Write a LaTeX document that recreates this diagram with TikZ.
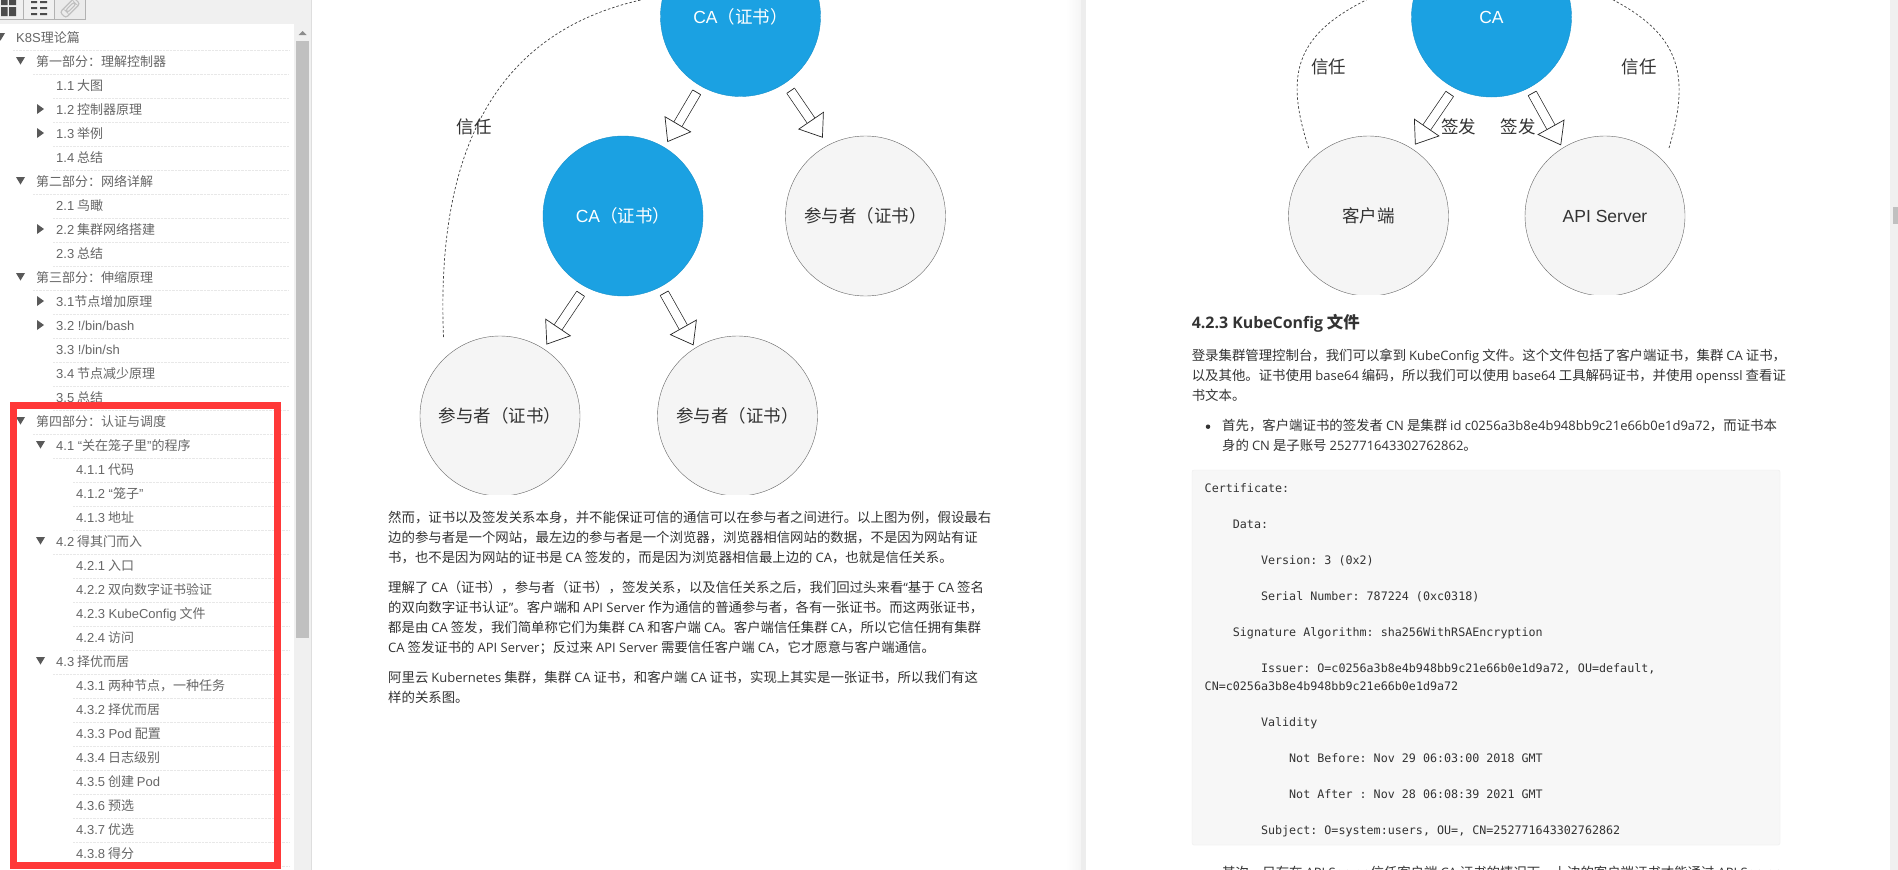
\documentclass[tikz,border=0pt]{standalone}
\usepackage{fontspec}
\usetikzlibrary{arrows.meta}
\setmainfont{Noto Sans CJK SC}
\newfontfamily\arifont{Liberation Sans}
\newfontfamily\latfont[Scale=0.97]{Open Sans}
\setmonofont{DejaVu Sans Mono}
\newcommand{\ari}[1]{{\arifont #1}}
\newcommand{\lat}[1]{{\latfont #1}}
\definecolor{cablue}{HTML}{1BA1E2}
\definecolor{peergrey}{HTML}{F5F5F5}
\definecolor{panelgrey}{HTML}{F0F0F0}
\definecolor{thumbgrey}{HTML}{C0C0C0}
\definecolor{redframe}{HTML}{FF3838}
\definecolor{bodytext}{HTML}{333333}
\tikzset{
  ca/.style = {circle, minimum size=160pt, inner sep=0, draw=cablue!90!black, fill=cablue, text=white, font=\fontsize{17.5}{20}\selectfont},
  peer/.style = {circle, minimum size=160pt, inner sep=0, draw=black!60, fill=peergrey, text=bodytext, font=\fontsize{17.5}{20}\selectfont},
  signarrow/.style = {double, double distance=8.5pt, line width=.7pt, draw=black!85, {Bar[width=9.5pt,line width=.7pt]}-{Triangle[open,length=21pt,width=31pt,line width=.7pt,fill=white]}},
  trust/.style = {dashed, dash pattern=on 2.5pt off 2pt, line width=.7pt, draw=black!75},
  tag/.style = {inner sep=0, text=bodytext, font=\fontsize{17.5}{20}\selectfont},
  tocrow/.style = {anchor=west, inner sep=0, text height=10pt, text depth=3pt, text=black!60, font=\fontsize{13}{16}\selectfont},
  bodyline/.style = {anchor=west, inner sep=0, text height=10pt, text depth=3pt, text=bodytext, font=\fontsize{13.4}{16}\selectfont},
  codeline/.style = {anchor=west, inner sep=0, text height=9pt, text depth=3pt, text=bodytext, font=\ttfamily\fontsize{11.7}{14}\selectfont}
}
\begin{document}
\begin{tikzpicture}[x=1pt, y=-1pt]
  \clip (0,0) rectangle (1898,870);
  \fill[white] (0,0) rectangle (1898,870);

  % window
  \fill[panelgrey] (0,0) rectangle (294,24);
  \fill[panelgrey] (294,0) rectangle (311,870);
  \fill[black!13] (311,0) rectangle (312,870);
  \fill[thumbgrey] (296,41) rectangle (309,638);
  \fill[black!45] (298.5,35) -- (302.5,31) -- (306.5,35) -- cycle;
  \fill[left color=white, right color=black!4] (1066,0) rectangle (1081,870);
  \fill[black!7] (1081,0) rectangle (1086,870);
  \fill[panelgrey] (1890,0) rectangle (1898,870);
  \fill[thumbgrey] (1893,207) rectangle (1898,224);
  \draw[black!30] (-1,19.5) -- (85.5,19.5) -- (85.5,-1);
  \draw[black!30] (23.5,-1) -- (23.5,19.5) (54.5,-1) -- (54.5,19.5);
  \fill[black!8] (55,0) rectangle (85,19);
  \fill[black!70] (1,0) rectangle (7.5,5) (9,0) rectangle (16,5) (1,7) rectangle (7.5,16) (9,7) rectangle (16,16);
  \foreach \rowy in {2,8,14} {
    \fill[black!70] (31,\rowy-1) rectangle (37,\rowy+1) (40,\rowy-1) rectangle (47,\rowy+1);
  }
  \draw[black!25, line width=1.2pt, rotate around={-45:(70,8)}, rounded corners=2.5pt] (66,-2) rectangle (74,18) (68.5,1) rectangle (71.5,13);

  % contents
  \foreach \lvl/\mk/\txt [count=\i] in {
    0/1/{\ari{K8S}理论篇},
    1/1/{第一部分：理解控制器},
    2/0/{\ari{1.1} 大图},
    2/2/{\ari{1.2} 控制器原理},
    2/2/{\ari{1.3} 举例},
    2/0/{\ari{1.4} 总结},
    1/1/{第二部分：网络详解},
    2/0/{\ari{2.1} 鸟瞰},
    2/2/{\ari{2.2} 集群网络搭建},
    2/0/{\ari{2.3} 总结},
    1/1/{第三部分：伸缩原理},
    2/2/{\ari{3.1}节点增加原理},
    2/2/{\ari{3.2 !/bin/bash}},
    2/0/{\ari{3.3 !/bin/sh}},
    2/0/{\ari{3.4} 节点减少原理},
    2/0/{\ari{3.5} 总结},
    1/1/{第四部分：认证与调度},
    2/1/{\ari{4.1 “}关在笼子里\ari{”}的程序},
    3/0/{\ari{4.1.1} 代码},
    3/0/{\ari{4.1.2 “}笼子\ari{”}},
    3/0/{\ari{4.1.3} 地址},
    2/1/{\ari{4.2} 得其门而入},
    3/0/{\ari{4.2.1} 入口},
    3/0/{\ari{4.2.2} 双向数字证书验证},
    3/0/{\ari{4.2.3 KubeConfig} 文件},
    3/0/{\ari{4.2.4} 访问},
    2/1/{\ari{4.3} 择优而居},
    3/0/{\ari{4.3.1} 两种节点，一种任务},
    3/0/{\ari{4.3.2} 择优而居},
    3/0/{\ari{4.3.3 Pod} 配置},
    3/0/{\ari{4.3.4} 日志级别},
    3/0/{\ari{4.3.5} 创建 \ari{Pod}},
    3/0/{\ari{4.3.6} 预选},
    3/0/{\ari{4.3.7} 优选},
    3/0/{\ari{4.3.8} 得分}} {
    \pgfmathsetmacro\rowy{13+24*\i}
    \pgfmathsetmacro\rowx{16+20*\lvl}
    \node[tocrow] (toc\i) at (\rowx,\rowy+1.5) {\txt};
    \draw[black!9, densely dotted] (\rowx-3,\rowy+13) -- (289,\rowy+13);
    \ifcase\mk\or
      \fill[black!65] (\rowx-20,\rowy-4) -- ++(9,0) -- ++(-4.5,7.5) -- cycle;
    \or
      \fill[black!65] (\rowx-19,\rowy-5) -- ++(7,5) -- ++(-7,5) -- cycle;
    \fi
  }
  \draw[redframe, line width=7pt] (13.5,405.5) rectangle (277.5,865.5);

  % first page
  \node[ca] (rootca) at (740.5,16.5) {\ari{CA}（证书）};
  \node[ca] (midca) at (623,216) {\ari{CA}（证书）};
  \node[peer] (rightpeer) at (865.5,216) {参与者（证书）};
  \node[peer] (leftpeer) at (500,416) {参与者（证书）};
  \node[peer] (lowpeer) at (737.5,416) {参与者（证书）};
  \fill[white] (420,495.4) rectangle (820,498);
  \coordinate (trustend) at (443.5,337);
  \draw[signarrow, shorten <=7pt, shorten >=6pt] (rootca.-120) -- (midca.59);
  \draw[signarrow, shorten <=9pt, shorten >=9pt] (rootca.-56) -- (rightpeer.118);
  \draw[signarrow, shorten <=8pt, shorten >=5pt] (midca.-118) -- (leftpeer.57);
  \draw[signarrow, shorten <=7pt, shorten >=3pt] (midca.-62) -- (lowpeer.122);
  \draw[trust] (trustend) .. controls (435,130) and (510,20) .. (rootca.165);
  \node[tag] (trustone) at (474,127) {信任};

  \foreach \rowy/\txt [count=\i] in {
    518.7/{然而，证书以及签发关系本身，并不能保证可信的通信可以在参与者之间进行。以上图为例，假设最右},
    538.7/{边的参与者是一个网站，最左边的参与者是一个浏览器，浏览器相信网站的数据，不是因为网站有证},
    558.7/{书，也不是因为网站的证书是 \lat{CA} 签发的，而是因为浏览器相信最上边的 \lat{CA}，也就是信任关系。},
    589/{理解了 \lat{CA}（证书），参与者（证书），签发关系，以及信任关系之后，我们回过头来看\lat{“}基于 \lat{CA} 签名},
    609/{的双向数字证书认证\lat{”}。客户端和 \lat{API Server} 作为通信的普通参与者，各有一张证书。而这两张证书，},
    629/{都是由 \lat{CA} 签发，我们简单称它们为集群 \lat{CA} 和客户端 \lat{CA}。客户端信任集群 \lat{CA}，所以它信任拥有集群},
    649/{\lat{CA} 签发证书的 \lat{API Server}；反过来 \lat{API Server} 需要信任客户端 \lat{CA}，它才愿意与客户端通信。},
    679/{阿里云 \lat{Kubernetes} 集群，集群 \lat{CA} 证书，和客户端 \lat{CA} 证书，实现上其实是一张证书，所以我们有这},
    699/{样的关系图。}} {
    \node[bodyline] (left\i) at (388,\rowy) {\txt};
  }

  % second page
  \node[ca] (clusterca) at (1491.5,17) {\ari{CA}};
  \node[peer] (client) at (1368.5,216) {客户端};
  \node[peer] (apiserver) at (1605,216) {\ari{API Server}};
  \fill[white] (1285,295.4) rectangle (1690,298);
  \coordinate (clientend) at (1308.6,148);
  \coordinate (serverend) at (1669,148);
  \draw[signarrow, shorten <=7pt, shorten >=5pt] (clusterca.-118.6) -- (client.57.7);
  \draw[signarrow, shorten <=6pt, shorten >=3pt] (clusterca.-62) -- (apiserver.122);
  \draw[trust] (clientend) .. controls (1280,60) and (1300,20) .. (clusterca.150);
  \draw[trust] (serverend) .. controls (1695,60) and (1675,20) .. (clusterca.30);
  \node[tag] (trusttwo) at (1328.6,67) {信任};
  \node[tag] (trustthree) at (1639,67) {信任};
  \node[tag] (signone) at (1458.6,126.7) {签发};
  \node[tag] (signtwo) at (1518,126.7) {签发};

  \node[bodyline, font=\bfseries\fontsize{16.4}{19}\selectfont] (heading) at (1191.6,324.5) {\lat{\bfseries 4.2.3 KubeConfig} 文件};
  \foreach \rowx/\rowy/\txt [count=\i] in {
    1191.6/356.7/{登录集群管理控制台，我们可以拿到 \lat{KubeConfig} 文件。这个文件包括了客户端证书，集群 \lat{CA} 证书，},
    1191.6/376.7/{以及其他。证书使用 \lat{base64} 编码，所以我们可以使用 \lat{base64} 工具解码证书，并使用 \lat{openssl} 查看证},
    1191.6/397/{书文本。},
    1222/426.7/{首先，客户端证书的签发者 \lat{CN} 是集群 \lat{id c0256a3b8e4b948bb9c21e66b0e1d9a72}，而证书本},
    1222/446.7/{身的 \lat{CN} 是子账号 \lat{252771643302762862}。},
    1222/874/{其次，只有在 \lat{API Server} 信任客户端 \lat{CA} 证书的情况下，上边的客户端证书才能通过 \lat{API Server}}} {
    \node[bodyline] (right\i) at (\rowx,\rowy) {\txt};
  }
  \foreach \rowy [count=\i] in {426.7,874} {
    \node[circle, fill=bodytext, minimum size=4.5pt, inner sep=0] (dot\i) at (1208,\rowy) {};
  }

  \draw[black!7, fill=black!3, rounded corners=2pt] (1192,470) rectangle (1780,845);
  \foreach \ind/\rowy/\txt [count=\i] in {
    0/489/{Certificate:},
    4/525/{Data:},
    8/561/{Version: 3 (0x2)},
    8/597/{Serial Number: 787224 (0xc0318)},
    4/633/{Signature Algorithm: sha256WithRSAEncryption},
    8/669/{Issuer: O=c0256a3b8e4b948bb9c21e66b0e1d9a72, OU=default,},
    0/687/{CN=c0256a3b8e4b948bb9c21e66b0e1d9a72},
    8/723/{Validity},
    12/759/{Not Before: Nov 29 06:03:00 2018 GMT},
    12/795/{Not After : Nov 28 06:08:39 2021 GMT},
    8/831/{Subject: O=system:users, OU=, CN=252771643302762862}} {
    \pgfmathsetmacro\rowx{1204.5+7.04*\ind}
    \node[codeline] (code\i) at (\rowx,\rowy) {\txt};
  }
\end{tikzpicture}
\end{document}
